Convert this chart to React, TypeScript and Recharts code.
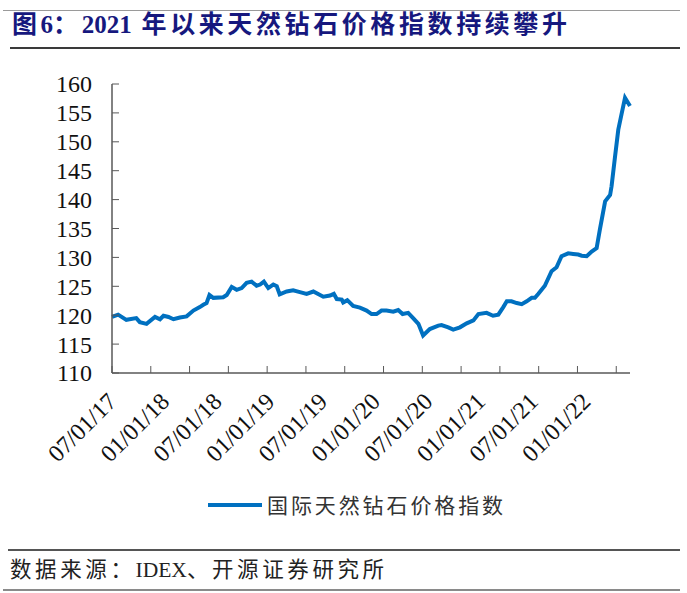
import { LineChart, Line, XAxis, YAxis } from "recharts";

// IDEX natural diamond price index
const dates = [
  "2017-07-01", "2017-07-22", "2017-08-20", "2017-09-24", "2017-10-06", "2017-10-29",
  "2017-11-28", "2017-12-15", "2017-12-27", "2018-01-14", "2018-01-31", "2018-02-23",
  "2018-03-16", "2018-04-09", "2018-05-01", "2018-05-13", "2018-05-24", "2018-06-04",
  "2018-06-17", "2018-07-21", "2018-08-03", "2018-08-20", "2018-09-07", "2018-09-24",
  "2018-10-11", "2018-10-28", "2018-11-15", "2018-11-27", "2018-12-10", "2018-12-25",
  "2019-01-12", "2019-01-24", "2019-02-04", "2019-02-28", "2019-03-20", "2019-04-13",
  "2019-05-06", "2019-05-29", "2019-07-03", "2019-07-26", "2019-08-09", "2019-08-19",
  "2019-09-06", "2019-09-11", "2019-09-25", "2019-10-15", "2019-11-08", "2019-12-01",
  "2019-12-18", "2020-01-05", "2020-01-22", "2020-02-09", "2020-03-02", "2020-03-19",
  "2020-04-04", "2020-04-23", "2020-05-10", "2020-05-28", "2020-06-14", "2020-07-07",
  "2020-08-06", "2020-08-17", "2020-09-10", "2020-09-27", "2020-10-20", "2020-11-13",
  "2020-12-06", "2020-12-23", "2021-01-21", "2021-02-13", "2021-03-01", "2021-03-18",
  "2021-03-30", "2021-04-16", "2021-05-04", "2021-05-21", "2021-06-08", "2021-06-25",
  "2021-07-06", "2021-07-18", "2021-08-10", "2021-09-03", "2021-09-20", "2021-10-07",
  "2021-10-30", "2021-11-17", "2021-12-04", "2021-12-16", "2022-01-03", "2022-01-20",
  "2022-02-07", "2022-02-18", "2022-03-06", "2022-03-23", "2022-03-28", "2022-04-10",
  "2022-04-21", "2022-05-03", "2022-05-14", "2022-06-01",
];

const indexValues = [
  119.7, 120.1, 119.2, 119.5, 118.8, 118.5,
  119.7, 119.3, 119.9, 119.7, 119.3, 119.6,
  119.8, 120.8, 121.4, 121.8, 122.1, 123.5,
  123.0, 123.1, 123.5, 124.9, 124.4, 124.7,
  125.6, 125.8, 125.1, 125.3, 125.8, 124.7,
  125.3, 125.0, 123.6, 124.1, 124.3, 124.0,
  123.7, 124.1, 123.2, 123.4, 123.7, 122.8,
  122.7, 122.2, 122.6, 121.6, 121.3, 120.8,
  120.2, 120.2, 120.8, 120.8, 120.6, 120.9,
  120.2, 120.4, 119.5, 118.5, 116.5, 117.6,
  118.2, 118.3, 117.9, 117.5, 117.9, 118.6,
  119.1, 120.2, 120.4, 119.9, 120.1, 121.4,
  122.4, 122.4, 122.1, 121.9, 122.4, 123.0,
  123.0, 123.7, 125.1, 127.6, 128.3, 130.2,
  130.7, 130.6, 130.5, 130.3, 130.2, 131.0,
  131.6, 134.8, 139.7, 140.8, 142.3, 147.5,
  152.1, 155.0, 157.6, 156.2,
];

const xLabels = [
  "07/01/17", "01/01/18", "07/01/18", "01/01/19", "07/01/19",
  "01/01/20", "07/01/20", "01/01/21", "07/01/21", "01/01/22",
];
const yTicks = [110, 115, 120, 125, 130, 135, 140, 145, 150, 155, 160];

const seriesName = "国际天然钻石价格指数";
const BLUE = "#0070C0";
const AXIS = "#595959";
const LATIN = "'Liberation Serif', 'Noto Sans CJK SC', serif";
const CJK = "'Noto Sans CJK SC', sans-serif";

// months since 2017-07-01
function monthOffset(d: string): number {
  const [y, m, day] = d.split("-").map(Number);
  return (y - 2017) * 12 + (m - 7) + (day - 1) / 30;
}

const data = dates.map((d, i) => ({ m: monthOffset(d), v: indexValues[i] }));
const labelMonths = xLabels.map((l) => {
  const [mm, , yy] = l.split("/").map(Number);
  return (2000 + yy - 2017) * 12 + (mm - 7);
});
const X_END = 59;
// excel-style tick marks, not aligned with the labels
const tickMonths = Array.from({ length: 14 }, (_, k) => +(k * 4.418).toFixed(3));
const allTicks = Array.from(new Set([...labelMonths, ...tickMonths])).sort((a, b) => a - b);

function XTick(props: any) {
  const { x, y, payload } = props;
  const v = payload.value;
  const li = labelMonths.indexOf(v);
  const hasMark = tickMonths.includes(v);
  return (
    <g>
      {hasMark && <line x1={x} x2={x} y1={y} y2={y - 7} stroke={AXIS} strokeWidth={1} />}
      {li >= 0 && (
        <text
          transform={`translate(${x + 6},${y + 30}) rotate(-45)`}
          textAnchor="end"
          fontFamily={LATIN}
          fontSize={24}
          fill="#111"
        >
          {xLabels[li]}
        </text>
      )}
    </g>
  );
}

function YTick(props: any) {
  const { x, y, payload } = props;
  return (
    <g>
      <line x1={x} x2={x + 7} y1={y} y2={y} stroke={AXIS} strokeWidth={1} />
      <text x={x - 20} y={y} dy="0.35em" textAnchor="end" fontFamily={LATIN} fontSize={24} fill="#111">
        {payload.value}
      </text>
    </g>
  );
}

const rule = (top: number, left: number, width: number, h: number, color: string) => (
  <div style={{ position: "absolute", top, left, width, height: h, background: color }} />
);

// latin runs inside CJK text stay tight, CJK runs get spaced out
const tight = (s: string) => <span style={{ letterSpacing: 0 }}>{s}</span>;

export default function App() {
  return (
    <div style={{ position: "absolute", left: 0, top: 0, width: 687, height: 593, background: "#fff", overflow: "hidden" }}>
      {rule(10, 3, 677, 1, "#9a9a9a")}
      <div
        style={{
          position: "absolute",
          left: 12,
          top: 11,
          height: 28,
          lineHeight: "28px",
          fontFamily: LATIN,
          fontWeight: 700,
          fontSize: 25,
          letterSpacing: 3.6,
          color: "#16187e",
          whiteSpace: "nowrap",
        }}
      >
        图{tight("6")}：{tight("2021")} 年以来天然钻石价格指数持续攀升
      </div>
      {rule(47, 10, 670, 2, "#3a3a3a")}

      <div style={{ position: "absolute", left: 0, top: 0 }}>
        <LineChart width={687} height={480} data={data} margin={{ top: 84, right: 57, bottom: 77, left: 52 }}>
          <XAxis
            dataKey="m"
            type="number"
            domain={[0, X_END]}
            ticks={allTicks}
            interval={0}
            tickSize={0}
            tickMargin={0}
            tickLine={false}
            tick={<XTick />}
            axisLine={{ stroke: AXIS, strokeWidth: 1.5 }}
            height={30}
          />
          <YAxis
            type="number"
            domain={[110, 160]}
            ticks={yTicks}
            interval={0}
            tickSize={0}
            tickMargin={0}
            tickLine={false}
            tick={<YTick />}
            axisLine={{ stroke: AXIS, strokeWidth: 1.5 }}
            width={60}
          />
          <Line
            type="linear"
            dataKey="v"
            name={seriesName}
            stroke={BLUE}
            strokeWidth={4}
            dot={false}
            isAnimationActive={false}
          />
        </LineChart>
      </div>

      {rule(503, 208, 54, 4, BLUE)}
      <div
        style={{
          position: "absolute",
          left: 267,
          top: 491,
          lineHeight: "26px",
          fontFamily: CJK,
          fontSize: 21,
          letterSpacing: 2.9,
          color: "#333",
          whiteSpace: "nowrap",
        }}
      >
        {seriesName}
      </div>

      {rule(549, 8, 672, 1.5, "#555")}
      <div
        style={{
          position: "absolute",
          left: 10,
          top: 557,
          lineHeight: "26px",
          fontFamily: LATIN,
          fontSize: 21.5,
          letterSpacing: 3.6,
          color: "#222",
          whiteSpace: "nowrap",
        }}
      >
        数据来源：{tight("IDEX")}、开源证券研究所
      </div>
      {rule(589, 3, 677, 2, "#8a8a8a")}
    </div>
  );
}
